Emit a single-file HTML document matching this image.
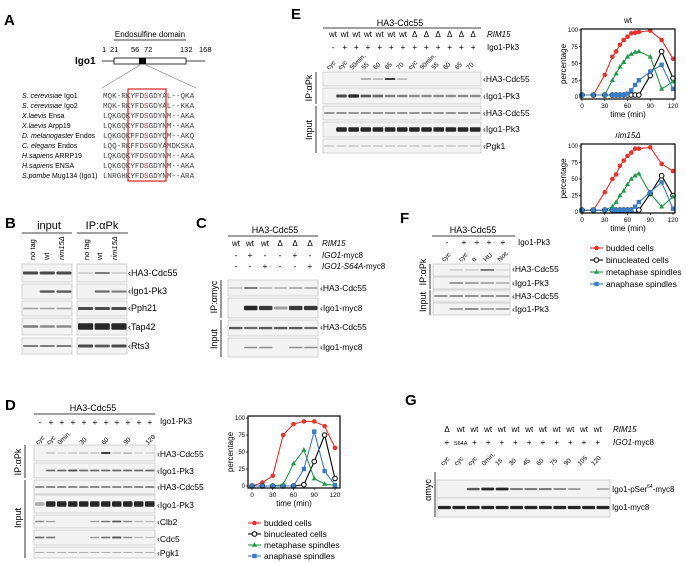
<!DOCTYPE html>
<html><head><meta charset="utf-8">
<style>
html,body{margin:0;padding:0;background:#fff;}
svg{display:block;font-family:"Liberation Sans",sans-serif;}
.m{font-family:"Liberation Mono",monospace;}
</style></head>
<body>
<svg id="fig" width="686" height="564" viewBox="0 0 686 564" xmlns="http://www.w3.org/2000/svg">
<g>
<text x="4" y="25" font-size="15" font-weight="bold">A</text>
<text x="150" y="37" font-size="8" text-anchor="middle">Endosulfine domain</text>
<line x1="114" y1="40" x2="186" y2="40" stroke="#000" stroke-width="0.8"/>
<g font-size="7.5">
<text x="102" y="52">1</text><text x="110" y="52">21</text><text x="131" y="52">56</text><text x="144" y="52">72</text><text x="180" y="52">132</text><text x="199" y="52">168</text>
</g>
<text x="75" y="64" font-size="10" font-weight="bold">Igo1</text>
<line x1="102" y1="61" x2="205" y2="61" stroke="#000" stroke-width="0.8"/>
<rect x="114" y="58" width="72" height="6" fill="#fff" stroke="#000" stroke-width="0.8"/>
<rect x="139" y="58" width="7" height="6" fill="#000"/>
<line x1="140" y1="65" x2="102" y2="88" stroke="#555" stroke-width="0.5"/>
<line x1="146" y1="65" x2="196" y2="88" stroke="#555" stroke-width="0.5"/>
<g font-size="7">
<text x="22" y="98"><tspan font-style="italic">S. cerevisiae</tspan> Igo1</text>
<text x="22" y="108"><tspan font-style="italic">S. cerevisiae</tspan> Igo2</text>
<text x="22" y="118"><tspan font-style="italic">X.laevis</tspan> Ensa</text>
<text x="22" y="128"><tspan font-style="italic">X.laevis</tspan> Arpp19</text>
<text x="22" y="138"><tspan font-style="italic">D. melanogaster</tspan> Endos</text>
<text x="22" y="148"><tspan font-style="italic">C. elegans</tspan> Endos</text>
<text x="22" y="158"><tspan font-style="italic">H.sapiens</tspan> ARRP19</text>
<text x="22" y="168"><tspan font-style="italic">H.sapiens</tspan> ENSA</text>
<text x="22" y="178"><tspan font-style="italic">S.pombe</tspan> Mug134 (Igo1)</text>
</g>
<g class="m" font-size="7.6" fill="#444">
<text x="103" y="98">MQK-RKYFD<tspan fill="#d22">S</tspan>GDYAL--QKA</text>
<text x="103" y="108">MQK-RKYFD<tspan fill="#d22">S</tspan>GDYAL--KKA</text>
<text x="103" y="118">LQKGQKYFD<tspan fill="#d22">S</tspan>GDYNM--AKA</text>
<text x="103" y="128">LQKGQKYFD<tspan fill="#d22">S</tspan>GDYNM--AKA</text>
<text x="103" y="138">LQKGQKFFD<tspan fill="#d22">S</tspan>GDYQM--AKQ</text>
<text x="103" y="148">LQQ-RKFFD<tspan fill="#d22">S</tspan>GDYAMDKSKA</text>
<text x="103" y="158">LQKGQKYFD<tspan fill="#d22">S</tspan>GDYNM--AKA</text>
<text x="103" y="168">LQKGQKYFD<tspan fill="#d22">S</tspan>GDYNM--AKA</text>
<text x="103" y="178">LNRGHKYFD<tspan fill="#d22">S</tspan>GDYNM--ARA</text>
</g>
<rect x="128" y="89" width="38" height="92" fill="none" stroke="#d22" stroke-width="1.2"/>
</g>

<text x="5" y="228" font-size="15" font-weight="bold">B</text>
<text x="196" y="228" font-size="15" font-weight="bold">C</text>
<text x="5" y="410" font-size="15" font-weight="bold">D</text>
<text x="291" y="19" font-size="15" font-weight="bold">E</text>
<text x="400" y="223" font-size="15" font-weight="bold">F</text>
<text x="405" y="405" font-size="15" font-weight="bold">G</text>

<g font-size="10">
<text x="49" y="229" text-anchor="middle" font-size="11">input</text>
<line x1="22" y1="233" x2="72" y2="233" stroke="#000" stroke-width="0.8"/>
<text x="102" y="229" text-anchor="middle" font-size="11">IP:αPk</text>
<line x1="77" y1="233" x2="128" y2="233" stroke="#000" stroke-width="0.8"/>
<g font-size="7.5">
<text transform="translate(35,260) rotate(-90)">no tag</text>
<text transform="translate(49,260) rotate(-90)">wt</text>
<text transform="translate(64,260) rotate(-90)" font-style="italic">rim15Δ</text>
<text transform="translate(89,260) rotate(-90)">no tag</text>
<text transform="translate(102,260) rotate(-90)">wt</text>
<text transform="translate(117,260) rotate(-90)" font-style="italic">rim15Δ</text>
</g>
</g>
<g font-size="8">
<text x="275" y="233" text-anchor="middle" font-size="9">HA3-Cdc55</text>
<line x1="228" y1="236" x2="318" y2="236" stroke="#000" stroke-width="0.8"/>
<text x="236" y="246" text-anchor="middle">wt</text><text x="250" y="246" text-anchor="middle">wt</text><text x="265" y="246" text-anchor="middle">wt</text>
<text x="280" y="246" text-anchor="middle">Δ</text><text x="295" y="246" text-anchor="middle">Δ</text><text x="310" y="246" text-anchor="middle">Δ</text>
<text x="322" y="246" font-style="italic">RIM15</text>
<text x="236" y="258" text-anchor="middle">-</text><text x="250" y="258" text-anchor="middle">+</text><text x="265" y="258" text-anchor="middle">-</text>
<text x="280" y="258" text-anchor="middle">-</text><text x="295" y="258" text-anchor="middle">+</text><text x="310" y="258" text-anchor="middle">-</text>
<text x="322" y="258"><tspan font-style="italic">IGO1</tspan>-myc8</text>
<text x="236" y="269" text-anchor="middle">-</text><text x="250" y="269" text-anchor="middle">-</text><text x="265" y="269" text-anchor="middle">+</text>
<text x="280" y="269" text-anchor="middle">-</text><text x="295" y="269" text-anchor="middle">-</text><text x="310" y="269" text-anchor="middle">+</text>
<text x="322" y="269"><tspan font-style="italic">IGO1-S64A</tspan>-myc8</text>
</g>
<g font-size="8">
<text x="93" y="411" text-anchor="middle" font-size="9">HA3-Cdc55</text>
<line x1="34" y1="414" x2="155" y2="414" stroke="#000" stroke-width="0.8"/>
<text x="160" y="424">Igo1-Pk3</text>
</g>
<g font-size="8">
<text x="400" y="26" text-anchor="middle" font-size="9">HA3-Cdc55</text>
<line x1="323" y1="28" x2="481" y2="28" stroke="#000" stroke-width="0.8"/>
<text x="487" y="37" font-style="italic">RIM15</text>
<text x="487" y="50">Igo1-Pk3</text>
</g>
<g font-size="8">
<text x="473" y="233" text-anchor="middle" font-size="9">HA3-Cdc55</text>
<line x1="432" y1="236" x2="515" y2="236" stroke="#000" stroke-width="0.8"/>
<text x="518" y="245">Igo1-Pk3</text>
</g>
<g font-size="8">
<text x="613" y="432" font-style="italic">RIM15</text>
<text x="613" y="445"><tspan font-style="italic">IGO1</tspan>-myc8</text>
<text x="612" y="492">Igo1-pSer<tspan dy="-4" font-size="5">64</tspan><tspan dy="4">-myc8</tspan></text>
<text x="612" y="510">Igo1-myc8</text>
<text transform="translate(431,490) rotate(-90)" text-anchor="middle" font-size="9">αmyc</text>
<line x1="435" y1="472" x2="435" y2="517" stroke="#000" stroke-width="0.8"/>
</g>
<g id="dyn"></g>
</svg>
<script>
const dTimes = [0,15,30,45,60,75,90,105,120];
const dBudded = [0,5,15,75,91,95,95,88,56];
const dBinucleated = [0,0,0,0,0,2,36,75,11];
const dMetaphase = [0,0,0,2,33,53,11,3,1];
const dAnaphase = [0,0,0,0,0,25,80,22,1];
const eTimes = [0,15,30,40,45,50,55,60,65,70,75,90,105,120];
const eWtBudded = [3,3,33,60,68,78,85,90,95,96,97,99,85,57];
const eWtBinucleated = [3,3,3,3,3,3,3,3,3,3,3,32,68,28];
const eWtMetaphase = [3,3,3,25,35,45,52,60,64,67,68,60,12,23];
const eWtAnaphase = [3,3,3,3,3,3,3,5,10,18,25,38,48,12];
const eRimBudded = [3,3,30,50,57,70,78,85,90,96,96,98,73,62];
const eRimBinucleated = [3,3,3,3,3,3,3,3,3,3,3,28,55,25];
const eRimMetaphase = [3,3,3,8,15,25,32,42,50,55,58,28,8,23];
const eRimAnaphase = [3,3,3,3,3,3,3,3,3,8,15,30,45,5];
const yTicks = [0,25,50,75,100];
const xTicks = [0,30,60,90,120];
const legendLabels = ["budded cells","binucleated cells","metaphase spindles","anaphase spindles"];

const NS="http://www.w3.org/2000/svg";
const root=document.getElementById('dyn');
function mk(tag,attrs,parent){const e=document.createElementNS(NS,tag);for(const k in attrs)e.setAttribute(k,attrs[k]);(parent||root).appendChild(e);return e;}
function txt(x,y,s,size,parent,extra){const t=mk('text',Object.assign({x:x,y:y,'font-size':size},extra||{}),parent);t.textContent=s;return t;}

const COLORS=["#e8322b","#000","#1f9a48","#3b7cc4"];
function marker(g,kind,x,y,color){
  if(kind===0){const m=mk('circle',{cx:x,cy:y,r:2.3,fill:color},g);}
  else if(kind===1){const m=mk('circle',{cx:x,cy:y,r:2.3,fill:'#fff',stroke:'#000','stroke-width':1},g);}
  else if(kind===2){const m=mk('polygon',{points:`${x},${y-2.8} ${x-2.6},${y+1.8} ${x+2.6},${y+1.8}`,fill:color},g);}
  else {const m=mk('rect',{x:x-2.2,y:y-2.2,width:4.4,height:4.4,fill:color},g);}
}
function chart(name,box,x0px,x1px,y0px,y100px,times,series,title,italic){
  const g=mk('g',{});
  
  
  const sx=t=>x0px+(x1px-x0px)*t/120;
  const sy=v=>y0px+(y100px-y0px)*v/100;
  if(title){const tt=txt((box[0]+box[2])/2,box[1]-6,title,8,g,{'text-anchor':'middle','font-style':italic?'italic':'normal'});}
  series.forEach((vals,k)=>{
    const pts=vals.map((v,i)=>sx(times[i])+','+sy(v)).join(' ');
    const l=mk('polyline',{points:pts,fill:'none',stroke:COLORS[k],'stroke-width':1.1},g);
    
    
  });
  series.forEach((vals,k)=>vals.forEach((v,i)=>marker(g,k,sx(times[i]),sy(v),COLORS[k])));
  const fr=mk('rect',{x:box[0],y:box[1],width:box[2]-box[0],height:box[3]-box[1],fill:'none',stroke:'#000','stroke-width':1.2},g);
  
  
  yTicks.forEach(v=>{mk('line',{x1:box[0]-2,x2:box[0],y1:sy(v),y2:sy(v),stroke:'#000','stroke-width':0.7},g);
    const t=txt(box[0]-3,sy(v)+2,String(v),6,g,{'text-anchor':'end'});});
  xTicks.forEach(v=>{mk('line',{x1:sx(v),x2:sx(v),y1:box[3],y2:box[3]+2,stroke:'#000','stroke-width':0.7},g);
    const t=txt(sx(v),box[3]+9,String(v),6.5,g,{'text-anchor':'middle'});});
  const xt=txt((box[0]+box[2])/2,box[3]+18,'time (min)',8,g,{'text-anchor':'middle'});
  
  const yt=mk('text',{transform:`translate(${box[0]-15},${(box[1]+box[3])/2}) rotate(-90)`,'font-size':8,'text-anchor':'middle'},g);yt.textContent='percentage';
  
}
function legend(x,y,step){
  const g=mk('g',{});
  
  
  legendLabels.forEach((s,k)=>{
    const e=mk('g',{},g);
    
    
    mk('line',{x1:x,x2:x+13,y1:y+k*step,y2:y+k*step,stroke:COLORS[k],'stroke-width':1.1},e);
    marker(e,k,x+6.5,y+k*step,COLORS[k]);
    txt(x+16,y+k*step+3,s,8.5,e);
  });
}
chart('chart-d',[248,416,340,488],252,335,486,418,dTimes,[dBudded,dBinucleated,dMetaphase,dAnaphase],null,false);
chart('chart-e-wt',[581,29,675,99],582,673,97,30,eTimes,[eWtBudded,eWtBinucleated,eWtMetaphase,eWtAnaphase],'wt',false);
chart('chart-e-rim15',[581,144,675,213],582,673,212,146,eTimes,[eRimBudded,eRimBinucleated,eRimMetaphase,eRimAnaphase],'rim15Δ',true);
legend(248,523,11);
legend(590,248,12);

function blot(name,x0,x1,y0,y1,bands,bh){
  const g=mk('g',{});
  
  
  mk('rect',{x:x0,y:y0,width:x1-x0,height:y1-y0,fill:'#f3f3f3',stroke:'#bbb','stroke-width':0.6},g);
  const n=bands.length,w=(x1-x0)/n,cy=(y0+y1)/2;
  bands.forEach((a,i)=>{ if(a>0){const h=bh*(0.6+a*0.5);const b=mk('rect',{x:x0+i*w+1,y:cy-h/2,width:w-1.5,height:h,rx:1,fill:'#111','fill-opacity':Math.min(1,0.15+a*0.75)},g);
    }});
}
function label(x,y,s,size){const t=txt(x,y,'‹'+s,size||8);}
function vlabel(x,cy,s,y0,y1){const t=mk('text',{transform:`translate(${x},${cy}) rotate(-90)`,'font-size':9,'text-anchor':'middle'});t.textContent=s;
  
  mk('line',{x1:x+4,x2:x+4,y1:y0,y2:y1,stroke:'#000','stroke-width':0.8});}

blot('blot-b-input-cdc55',22,72,264,282,[0.8,0.8,0.8],3);
blot('blot-b-ip-cdc55',77,127,264,282,[0.1,0.6,0.1],2);
blot('blot-b-input-igo1',22,72,284,299,[0,0.7,0.7],2.5);
blot('blot-b-ip-igo1',77,127,284,299,[0,0.6,0.5],2.5);
blot('blot-b-input-pph21',22,72,301,316,[0.3,0.3,0.3],2);
blot('blot-b-ip-pph21',77,127,301,316,[0.8,0.8,0.8],3);
blot('blot-b-input-tap42',22,72,318,335,[0.5,0.4,0.4],3);
blot('blot-b-ip-tap42',77,127,318,335,[1,1,1],6);
blot('blot-b-input-rts3',22,72,338,354,[0.6,0.6,0.6],2);
blot('blot-b-ip-rts3',77,127,338,354,[0.8,0.7,0.8],3);
[['HA3-Cdc55',276],['Igo1-Pk3',294],['Pph21',311],['Tap42',330],['Rts3',349]].forEach(a=>label(128,a[1],a[0],9));
blot('blot-c-ip-cdc55',228,318,280,296,[0.15,0.6,0.2,0.2,0.3,0.3],2);
blot('blot-c-ip-igo1',228,318,298,318,[0,1,0.9,0.3,0.9,0.9],4);
blot('blot-c-input-cdc55',228,318,320,336,[0.7,0.6,0.7,0.7,0.7,0.6],2.5);
blot('blot-c-input-igo1',228,318,338,357,[0,0.4,0.4,0,0.4,0.4],2);
[['HA3-Cdc55',291],['Igo1-myc8',311],['HA3-Cdc55',330],['Igo1-myc8',350]].forEach(a=>label(320,a[1],a[0],8.5));
vlabel(217,297,'IP:αmyc',280,318); vlabel(217,339,'Input',320,357);
const dSigns=['-','+','+','+','+','+','+','+','+','+','+'];
dSigns.forEach((s,i)=>{const t=txt(40+i*11,425,s,8,null,{'text-anchor':'middle'});});
[['cyc',0],['cyc',1],['0min.',2],['30',4],['60',6],['90',8],['120',10]].forEach(a=>{const t=mk('text',{transform:`translate(${38+a[1]*11},${445}) rotate(-45)`,'font-size':6.5});t.textContent=a[0];});
blot('blot-d-ip-cdc55',34,155,445,461,[0,0.2,0.05,0.15,0.2,0.2,1,0.2,0.3,0.05,0.05],1.5);
blot('blot-d-ip-igo1',34,155,463,478,[0,0.6,0.6,0.7,0.6,0.6,0.6,0.6,0.6,0.6,0.6],2);
blot('blot-d-input-cdc55',34,155,480,494,[0.6,0.6,0.6,0.6,0.6,0.6,0.6,0.6,0.6,0.6,0.6],1.8);
blot('blot-d-input-igo1',34,155,495,513,[0.2,1,1,1,1,1,1,1,1,1,1],5);
blot('blot-d-input-clb2',34,155,515,528,[0.4,0.3,0,0,0,0.3,0.5,0.7,0.4,0.15,0.15],1.8);
blot('blot-d-input-cdc5',34,155,530,545,[0.6,0.5,0,0,0,0.3,0.5,0.7,0.4,0.15,0.1],2);
blot('blot-d-input-pgk1',34,155,547,558,[0.3,0.3,0.3,0.3,0.3,0.3,0.3,0.3,0.3,0.3,0.3],1);
[['HA3-Cdc55',457],['Igo1-Pk3',474],['HA3-Cdc55',490],['Igo1-Pk3',508],['Clb2',525],['Cdc5',542],['Pgk1',556]].forEach(a=>label(157,a[1],a[0],8.5));
vlabel(21,462,'IP:αPk',445,478); vlabel(21,518,'Input',480,558);
const eGen=['wt','wt','wt','wt','wt','wt','wt','Δ','Δ','Δ','Δ','Δ','Δ'];
const eSigns=['-','+','+','+','+','+','+','+','+','+','+','+','+'];
const eLanes=['cyc','cyc','50min.','55','60','65','70','cyc','50min.','55','60','65','70'];
eGen.forEach((s,i)=>{const x=333+i*11.67;
  const a=txt(x,37,s,8,null,{'text-anchor':'middle'});
  const b=txt(x,50,eSigns[i],8,null,{'text-anchor':'middle'});
  const c=mk('text',{transform:`translate(${x-4},${70}) rotate(-45)`,'font-size':6.5});c.textContent=eLanes[i];});
blot('blot-e-ip-cdc55',323,481,72,86,[0,0,0,0.4,0.3,1,0.3,0,0,0,0,0,0],1.5);
blot('blot-e-ip-igo1',323,481,88,104,[0,0.8,1,0.7,0.6,0.45,0.45,0.4,0.4,0.4,0.4,0.4,0.4],3);
blot('blot-e-input-cdc55',323,481,106,120,[0.55,0.55,0.55,0.55,0.55,0.55,0.55,0.55,0.55,0.55,0.55,0.55,0.55],1.8);
blot('blot-e-input-igo1',323,481,122,137,[0,1,1,1,1,1,1,1,1,1,1,1,1],4);
blot('blot-e-input-pgk1',323,481,139,153,[0.3,0.3,0.3,0.3,0.3,0.3,0.3,0.3,0.3,0.3,0.3,0.3,0.3],1);
[['HA3-Cdc55',82],['Igo1-Pk3',99],['HA3-Cdc55',116],['Igo1-Pk3',132],['Pgk1',149]].forEach(a=>label(483,a[1],a[0],8.5));
vlabel(312,88,'IP:αPk',72,104); vlabel(312,130,'Input',106,153);
const fLanes=['cyc','cyc','α','HU','Noc'];
[447,464,477,489,503].forEach((x,i)=>{const b=txt(x,245,['-','+','+','+','+'][i],8,null,{'text-anchor':'middle'});
  const c=mk('text',{transform:`translate(${x-3},${262}) rotate(-45)`,'font-size':6.5});c.textContent=fLanes[i];});
blot('blot-f-ip-cdc55',433,510,264,276,[0,0.15,0.15,0.9,0.05],1.3);
blot('blot-f-ip-igo1',433,510,277,289,[0,0.5,0.4,0.35,0.3],1.8);
blot('blot-f-input-cdc55',433,510,290,302,[0.55,0.55,0.55,0.55,0.55],1.8);
blot('blot-f-input-igo1',433,510,303,315,[0,0.4,0.6,0.4,0.4],1.8);
[['HA3-Cdc55',272],['Igo1-Pk3',286],['HA3-Cdc55',299],['Igo1-Pk3',312]].forEach(a=>label(512,a[1],a[0],8.5));
vlabel(426,272,'IP:αPk',264,289); vlabel(426,302,'Input',290,315);
const gGen=['Δ','wt','wt','wt','wt','wt','wt','wt','wt','wt','wt','wt'];
const gSigns=['+','S64A','+','+','+','+','+','+','+','+','+','+'];
const gLanes=['cyc','cyc','cyc','0min.','15','30','45','60','75','90','105','120'];
gGen.forEach((s,i)=>{const x=447+i*13.7;
  const a=txt(x,432,s,8,null,{'text-anchor':'middle'});
  const b=txt(x,445,gSigns[i],gSigns[i].length>1?5.5:8,null,{'text-anchor':'middle'});
  const c=mk('text',{transform:`translate(${x-4},${466}) rotate(-45)`,'font-size':6.5});c.textContent=gLanes[i];});
blot('blot-g-upper',437,610,480,498,[0,0,0.7,1,1,0.5,0.5,0.5,0.4,0.3,0,0.25],2.5);
blot('blot-g-lower',437,610,498,517,[1,1,1,1,1,1,1,1,1,1,1,1],3);
</script>
</body></html>
